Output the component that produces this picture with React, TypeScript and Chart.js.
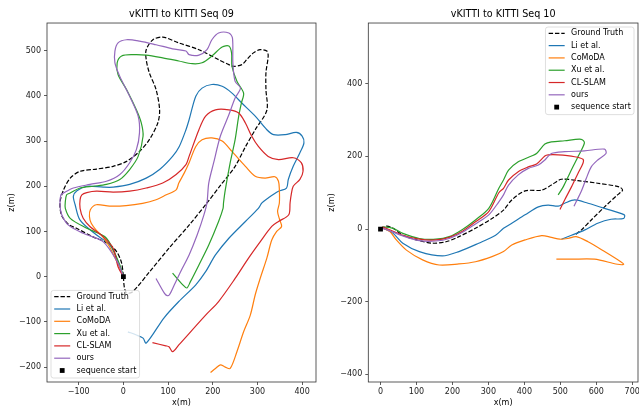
import { useEffect, useRef } from 'react';
import { Chart, registerables } from 'chart.js';

Chart.register(...registerables);

type Pt = [number, number];

const methodLabels = ['Ground Truth', 'Li et al.', 'CoMoDA', 'Xu et al.', 'CL-SLAM', 'ours'];
const methodColors = ['#000000', '#1f77b4', '#ff7f0e', '#2ca02c', '#d62728', '#9467bd'];
const startLabel = 'sequence start';
const startPoint: Pt[] = [[0, 0]];

const seq09Title = 'vKITTI to KITTI Seq 09';
const seq10Title = 'vKITTI to KITTI Seq 10';

// ---------- Seq 09 trajectories (x, z in metres) ----------
const seq09GroundTruth: Pt[] = [
  [0, 0], [2, -23], [7, -36], [20, -34], [58, 10], [102, 63], [147, 114], [187, 163], [218, 203],
  [250, 244], [273, 287], [295, 325], [321, 368], [319, 414], [319, 451], [324, 488], [321, 499],
  [306, 502], [291, 495], [276, 480], [265, 469], [247, 465], [236, 469], [213, 480], [169, 502],
  [124, 517], [88, 530], [66, 524], [51, 502], [51, 480], [58, 451], [73, 414], [81, 369], [77, 340],
  [58, 303], [36, 277], [7, 255], [-23, 244], [-60, 238], [-97, 233], [-119, 218], [-134, 192],
  [-142, 163], [-138, 135], [-122, 115], [-105, 107], [-68, 88], [-35, 74], [-15, 55], [-4, 30], [0, 0],
];
const seq09Li: Pt[] = [
  [0, 0], [-12, 33], [-30, 70], [-60, 92], [-97, 125], [-108, 159], [-112, 178], [-104, 190],
  [-82, 200], [-45, 198], [-23, 198], [14, 204], [51, 218], [81, 237], [110, 266], [125, 288],
  [140, 325], [147, 347], [162, 399], [176, 417], [198, 425], [221, 421], [243, 406], [265, 384],
  [295, 355], [321, 325], [336, 314], [362, 314], [387, 319], [400, 311], [404, 296], [395, 274],
  [380, 244], [369, 215], [365, 196], [347, 189], [324, 174], [310, 163], [302, 151], [273, 122],
  [236, 85], [206, 48], [184, 11], [162, -18], [124, -55], [91, -91], [51, -147], [44, -136],
  [29, -129], [10, -122],
];
const seq09CoMoDA: Pt[] = [
  [0, 0], [-9, 22], [-20, 44], [-31, 66], [-46, 88], [-61, 103], [-72, 118], [-76, 133], [-74, 148],
  [-61, 159], [-31, 156], [6, 157], [43, 162], [73, 170], [96, 181], [118, 192], [124, 207],
  [136, 229], [147, 252], [162, 288], [176, 303], [198, 307], [221, 300], [243, 277], [273, 244],
  [295, 222], [317, 218], [339, 221], [347, 211], [349, 192], [349, 163], [345, 144], [350, 125],
  [354, 111], [343, 100], [332, 81], [321, 41], [306, -4], [295, -40], [284, -85], [269, -122],
  [254, -166], [239, -203], [228, -200], [217, -195], [206, -203], [195, -212],
];
const seq09Xu: Pt[] = [
  [0, 0], [-8, 26], [-38, 85], [-82, 107], [-119, 129], [-130, 151], [-130, 166], [-127, 181],
  [-119, 185], [-97, 196], [-67, 200], [-38, 204], [-8, 215], [14, 237], [33, 266], [44, 311],
  [40, 340], [29, 369], [7, 414], [-12, 447], [-14, 473], [-4, 488], [22, 491], [51, 490], [88, 484],
  [124, 477], [154, 471], [176, 473], [198, 488], [221, 508], [236, 510], [242, 495], [243, 465],
  [254, 432], [269, 406], [264, 384], [258, 355], [250, 303], [239, 252], [228, 192], [224, 163],
  [223, 151], [213, 122], [191, 70], [169, 26], [150, -11], [142, -25], [133, -18], [110, 8],
];
const seq09CLSLAM: Pt[] = [
  [0, 0], [-12, 22], [-23, 63], [-45, 88], [-75, 111], [-90, 129], [-97, 151], [-97, 170], [-93, 181],
  [-82, 186], [-60, 189], [-23, 187], [14, 189], [51, 196], [88, 207], [118, 226], [140, 248],
  [147, 266], [169, 325], [184, 355], [206, 369], [236, 369], [258, 362], [273, 340], [287, 311],
  [302, 288], [324, 266], [347, 259], [380, 263], [398, 252], [402, 233], [395, 215], [380, 200],
  [375, 178], [373, 163], [370, 137], [347, 122], [332, 111], [306, 77], [280, 41], [250, -4],
  [213, -55], [184, -85], [124, -151], [110, -166], [102, -155], [95, -153], [65, -146],
];
const seq09Ours: Pt[] = [
  [0, 0], [-12, 30], [-45, 77], [-90, 96], [-123, 114], [-138, 137], [-142, 159], [-140, 181],
  [-134, 185], [-112, 196], [-75, 204], [-38, 211], [-8, 226], [14, 252], [29, 281], [36, 318],
  [33, 355], [14, 399], [-8, 443], [-19, 473], [-19, 499], [-12, 517], [7, 524], [36, 521], [73, 513],
  [110, 504], [140, 499], [147, 491], [169, 490], [187, 502], [198, 524], [213, 539], [236, 539],
  [244, 528], [245, 473], [250, 432], [262, 417], [250, 395], [236, 358], [217, 311], [202, 252],
  [191, 207], [187, 163], [180, 136], [165, 92], [147, 48], [128, 11], [114, -18], [103, -40],
  [98, -42], [92, -37], [73, -4],
];

// ---------- Seq 10 trajectories ----------
const seq10GroundTruth: Pt[] = [
  [0, 0], [17, 8], [35, 2], [62, -17], [108, -32], [145, -39], [182, -35], [218, -21], [264, 2],
  [310, 29], [342, 52], [365, 80], [402, 105], [448, 107], [475, 121], [503, 137], [549, 133],
  [604, 126], [664, 116], [673, 107], [659, 94], [623, 61], [586, 25], [558, -3], [540, -17],
];
const seq10Li: Pt[] = [
  [0, 0], [7, 2], [35, -12], [62, -39], [108, -62], [172, -74], [218, -62], [273, -39], [320, -17],
  [342, 2], [365, 16], [402, 39], [439, 61], [466, 66], [494, 63], [512, 71], [540, 80], [577, 71],
  [623, 57], [678, 39], [676, 29], [641, 27], [604, 16], [567, -3], [531, -17], [503, -28],
];
const seq10CoMoDA: Pt[] = [
  [0, 0], [7, 2], [26, -7], [44, -30], [72, -58], [117, -85], [163, -99], [218, -96], [264, -90],
  [310, -76], [342, -62], [365, -44], [402, -30], [448, -18], [475, -23], [499, -28], [521, -26],
  [544, -21], [577, -35], [623, -62], [668, -90], [676, -97], [659, -97], [595, -83], [531, -83],
  [489, -83],
];
const seq10Xu: Pt[] = [
  [0, 0], [7, 5], [35, 2], [62, -12], [108, -26], [154, -28], [191, -21], [228, -1], [264, 25],
  [301, 57], [329, 112], [342, 135], [356, 162], [383, 185], [420, 201], [434, 208], [457, 234],
  [475, 240], [512, 243], [558, 247], [567, 237], [549, 199], [526, 153], [508, 116], [494, 94],
];
const seq10CLSLAM: Pt[] = [
  [0, 0], [7, 5], [62, -17], [108, -28], [154, -30], [191, -23], [228, -6], [264, 20], [301, 48],
  [329, 100], [342, 112], [356, 135], [383, 158], [411, 171], [434, 179], [457, 201], [466, 204],
  [494, 204], [540, 199], [563, 192], [563, 181], [549, 153], [531, 116], [512, 80], [499, 54],
];
const seq10Ours: Pt[] = [
  [0, 0], [7, 2], [62, -19], [108, -32], [154, -33], [191, -26], [228, -9], [264, 14], [301, 39],
  [329, 75], [342, 94], [356, 121], [383, 149], [411, 167], [439, 176], [457, 190], [475, 208],
  [512, 213], [567, 215], [623, 220], [627, 208], [604, 190], [586, 171], [572, 139], [558, 103],
  [544, 75], [538, 63],
];

const seq09XTicks = [-100, 0, 100, 200, 300, 400];
const seq09YTicks = [-200, -100, 0, 100, 200, 300, 400, 500];
const seq10XTicks = [0, 100, 200, 300, 400, 500, 600, 700];
const seq10YTicks = [-400, -200, 0, 200, 400];

const seq09Series = [seq09GroundTruth, seq09Li, seq09CoMoDA, seq09Xu, seq09CLSLAM, seq09Ours];
const seq10Series = [seq10GroundTruth, seq10Li, seq10CoMoDA, seq10Xu, seq10CLSLAM, seq10Ours];

const FONT = '"DejaVu Sans", "Liberation Sans", sans-serif';
const GT_DASH = [4.4, 1.9];

const fmt = (v: number) => (v < 0 ? '\u2212' + Math.abs(v) : String(v));
const toXY = (pts: Pt[]) => pts.map(([x, y]) => ({ x, y }));

const framePlugin = {
  id: 'mplFrame',
  afterDatasetsDraw(chart: any, _args: any, opts: any) {
    const { ctx, chartArea: a } = chart;
    ctx.save();
    ctx.strokeStyle = '#333333';
    ctx.lineWidth = 0.8;
    ctx.strokeRect(a.left, a.top, a.right - a.left, a.bottom - a.top);

    // legend (matplotlib style)
    const fs = 8;
    ctx.font = `${fs}px ${FONT}`;
    const labels: string[] = [...methodLabels, startLabel];
    const pad = 3.2, handle = 16, gap = 6.4, rowH = 12.3, edge = 4;
    const tw = Math.max(...labels.map((l) => ctx.measureText(l).width));
    const w = pad * 2 + handle + gap + tw;
    const h = rowH * labels.length + 1.5;
    const lowerLeft = opts.corner === 'lower left';
    const x0 = lowerLeft ? a.left + edge : a.right - edge - w;
    const y0 = lowerLeft ? a.bottom - edge - h : a.top + edge;
    ctx.beginPath();
    ctx.roundRect(x0, y0, w, h, 2.5);
    ctx.fillStyle = 'rgba(255,255,255,0.8)';
    ctx.fill();
    ctx.strokeStyle = 'rgba(204,204,204,0.8)';
    ctx.lineWidth = 0.8;
    ctx.stroke();
    labels.forEach((label, i) => {
      const cy = y0 + 6.3 + i * rowH;
      const hx = x0 + pad;
      if (i < methodLabels.length) {
        ctx.beginPath();
        ctx.setLineDash(i === 0 ? GT_DASH : []);
        ctx.strokeStyle = methodColors[i];
        ctx.lineWidth = 1.2;
        ctx.moveTo(hx, cy);
        ctx.lineTo(hx + handle, cy);
        ctx.stroke();
        ctx.setLineDash([]);
      } else {
        ctx.fillStyle = '#000';
        ctx.fillRect(hx + handle / 2 - 2.4, cy - 2.4, 4.8, 4.8);
      }
      ctx.fillStyle = '#000';
      ctx.textBaseline = 'middle';
      ctx.textAlign = 'left';
      ctx.fillText(label, hx + handle + gap, cy);
    });
    ctx.restore();
  },
};

function makeConfig(
  title: string,
  series: Pt[][],
  xr: [number, number],
  yr: [number, number],
  xTicks: number[],
  yTicks: number[],
  yWidth: number,
  padRight: number,
  corner: string,
): any {
  const datasets: any[] = series.map((pts, i) => ({
    label: methodLabels[i],
    data: toXY(pts),
    showLine: true,
    borderColor: methodColors[i],
    backgroundColor: methodColors[i],
    borderWidth: 1.2,
    borderDash: i === 0 ? GT_DASH : [],
    pointRadius: 0,
    pointHoverRadius: 0,
    tension: 0.3,
    order: series.length - i,
  }));
  datasets.push({
    label: startLabel,
    data: toXY(startPoint),
    showLine: false,
    pointStyle: 'rect',
    pointRadius: 3.4,
    backgroundColor: '#000',
    borderWidth: 0,
    order: 0,
  });
  const tickFont = { family: FONT, size: 8 };
  const grid = {
    display: true,
    drawOnChartArea: false,
    drawTicks: true,
    tickLength: 3,
    tickWidth: 0.8,
    tickColor: '#333333',
  };
  return {
    type: 'scatter',
    data: { datasets },
    plugins: [framePlugin],
    options: {
      animation: false,
      responsive: false,
      devicePixelRatio: 1,
      events: [],
      layout: { padding: { left: 0, right: padRight, top: 0, bottom: 0 } },
      plugins: {
        legend: { display: false },
        tooltip: { enabled: false },
        title: {
          display: true,
          text: title,
          fullSize: false,
          color: '#000',
          font: { family: FONT, size: 9.6, weight: 'normal' },
          padding: { top: 8.5, bottom: 3 },
        },
        mplFrame: { corner },
      },
      scales: {
        x: {
          type: 'linear',
          min: xr[0],
          max: xr[1],
          afterBuildTicks: (s: any) => {
            s.ticks = xTicks.map((v) => ({ value: v }));
          },
          afterFit: (s: any) => {
            s.height = 26;
            s.paddingLeft = 0;
            s.paddingRight = 0;
          },
          ticks: {
            callback: (v: any) => fmt(Number(v)),
            font: tickFont,
            color: '#222',
            padding: 2,
            autoSkip: false,
            maxRotation: 0,
          },
          grid,
          border: { display: false },
          title: {
            display: true,
            text: 'x(m)',
            color: '#000',
            font: tickFont,
            padding: { top: 0, bottom: 0 },
          },
        },
        y: {
          type: 'linear',
          min: yr[0],
          max: yr[1],
          afterBuildTicks: (s: any) => {
            s.ticks = yTicks.map((v) => ({ value: v }));
          },
          afterFit: (s: any) => {
            s.width = yWidth;
            s.paddingTop = 0;
            s.paddingBottom = 0;
          },
          ticks: {
            callback: (v: any) => fmt(Number(v)),
            font: tickFont,
            color: '#222',
            padding: 3,
            autoSkip: false,
          },
          grid,
          border: { display: false },
          title: {
            display: true,
            text: 'z(m)',
            color: '#000',
            font: tickFont,
            padding: { top: 7, bottom: 0 },
          },
        },
      },
    },
  };
}

export default function App() {
  const leftRef = useRef<HTMLCanvasElement>(null);
  const rightRef = useRef<HTMLCanvasElement>(null);

  useEffect(() => {
    const c1 = new Chart(
      leftRef.current as HTMLCanvasElement,
      makeConfig(seq09Title, seq09Series, [-171, 431], [-233, 561], seq09XTicks, seq09YTicks, 47, 2, 'lower left'),
    );
    const c2 = new Chart(
      rightRef.current as HTMLCanvasElement,
      makeConfig(seq10Title, seq10Series, [-34, 716], [-421, 567], seq10XTicks, seq10YTicks, 48.3, 1.3, 'upper right'),
    );
    return () => {
      c1.destroy();
      c2.destroy();
    };
  }, []);

  return (
    <div
      style={{
        position: 'absolute',
        left: 0,
        top: 0,
        width: 639,
        height: 408,
        overflow: 'hidden',
        background: '#fff',
      }}
    >
      <canvas ref={leftRef} width={320} height={408} style={{ position: 'absolute', left: 0, top: 0 }} />
      <canvas ref={rightRef} width={322} height={408} style={{ position: 'absolute', left: 320, top: 0 }} />
    </div>
  );
}
